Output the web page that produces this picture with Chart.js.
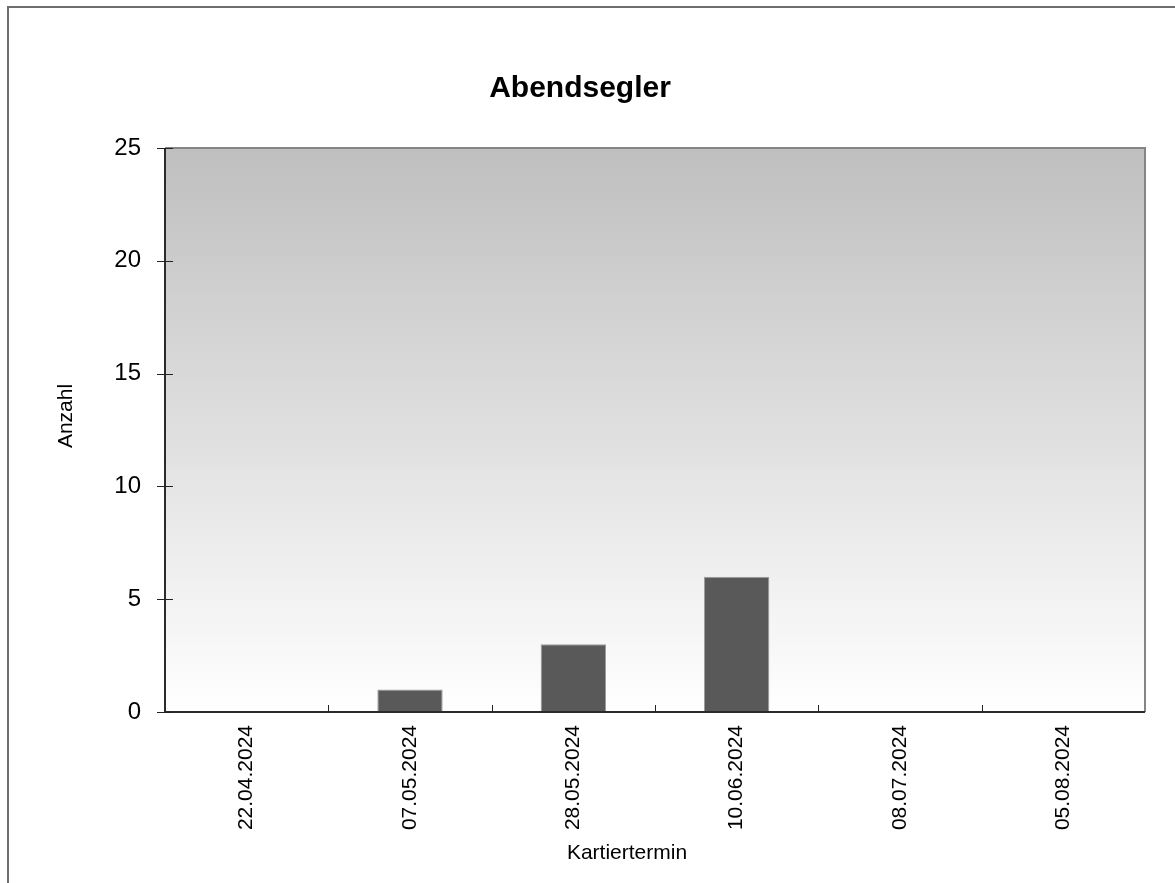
<!DOCTYPE html>
<html>
<head>
<meta charset="utf-8">
<script src="https://cdn.jsdelivr.net/npm/chart.js@4/dist/chart.umd.min.js"></script>
<style>
  html, body { margin: 0; padding: 0; background: #fff; }
  #box { width: 1175px; height: 883px; }
</style>
</head>
<body>
<div id="box"><canvas id="chart"></canvas></div>
<script>
const termine = ['22.04.2024', '07.05.2024', '28.05.2024', '10.06.2024', '08.07.2024', '05.08.2024'];
const anzahl = [0, 1, 3, 6, 0, 0];
const yMax = 25;
const yStep = 5;
const yTitel = 'Anzahl';
const xTitel = 'Kartiertermin';
const schrift = 'Liberation Sans, Arial, sans-serif';

// grey gradient behind the plot, outer frame, axis lines, tick marks and axis titles
const plotFrame = {
    id: 'plotFrame',
    beforeDraw(chart) {
        const ctx = chart.ctx;
        const a = chart.chartArea;
        ctx.save();
        ctx.strokeStyle = '#6e6e6e';
        ctx.lineWidth = 2;
        ctx.strokeRect(8, 7, 1300, 1000);
        let grad = ctx.createLinearGradient(0, a.top, 0, a.bottom);
        grad.addColorStop(0, '#bfbfbf');
        grad.addColorStop(1, '#ffffff');
        ctx.fillStyle = grad;
        ctx.fillRect(a.left, a.top, a.right - a.left, a.bottom - a.top);
        ctx.restore();
    },
    afterDatasetsDraw(chart) {
        const ctx = chart.ctx;
        const a = chart.chartArea;
        const x = chart.scales.x;
        const y = chart.scales.y;
        ctx.save();
        ctx.lineWidth = 2;
        ctx.strokeStyle = '#858585';
        ctx.beginPath();
        ctx.moveTo(a.left, a.top);
        ctx.lineTo(a.right, a.top);
        ctx.lineTo(a.right, a.bottom);
        ctx.stroke();
        ctx.strokeStyle = '#2b2b2b';
        ctx.beginPath();
        ctx.moveTo(a.left, a.top);
        ctx.lineTo(a.left, a.bottom);
        ctx.lineTo(a.right, a.bottom);
        ctx.stroke();

        ctx.lineWidth = 1;
        ctx.strokeStyle = '#222';
        ctx.beginPath();
        y.ticks.forEach(t => {
            let py = Math.round(y.getPixelForValue(t.value)) + 0.5;
            ctx.moveTo(a.left - 8, py);
            ctx.lineTo(a.left + 8, py);
        });
        for (let i = 1; i < termine.length; i++) {
            let px = Math.round((x.getPixelForValue(i - 1) + x.getPixelForValue(i)) / 2) + 0.5;
            ctx.moveTo(px, a.bottom);
            ctx.lineTo(px, a.bottom - 7);
        }
        ctx.stroke();

        // axis titles sit a bit off the axis centre
        ctx.fillStyle = '#000';
        ctx.font = '21px ' + schrift;
        ctx.textAlign = 'center';
        ctx.textBaseline = 'middle';
        ctx.fillText(xTitel, 627, 853);
        ctx.translate(66, 416);
        ctx.rotate(-Math.PI / 2);
        ctx.fillText(yTitel, 0, 0);
        ctx.restore();
    }
};

new Chart(document.getElementById('chart'), {
    type: 'bar',
    data: {
        labels: termine,
        datasets: [{
            label: yTitel,
            data: anzahl,
            backgroundColor: '#595959',
            borderColor: '#9c9c9c',
            borderWidth: 1,
            barPercentage: 0.4,
            categoryPercentage: 1.0
        }]
    },
    options: {
        responsive: true,
        maintainAspectRatio: false,
        animation: false,
        layout: { padding: { left: 15, right: 30, top: 0, bottom: 0 } },
        plugins: {
            legend: { display: false },
            tooltip: { enabled: false },
            title: {
                display: true,
                text: 'Abendsegler',
                color: '#000',
                font: { family: schrift, size: 30, weight: 'bold' },
                padding: { top: 71, bottom: 41 }
            }
        },
        scales: {
            x: {
                offset: true,
                grid: { display: true, color: 'transparent', drawOnChartArea: false, drawTicks: false },
                border: { display: false },
                ticks: {
                    color: '#000',
                    minRotation: 90,
                    maxRotation: 90,
                    padding: 13,
                    font: { family: schrift, size: 21 }
                },
                afterFit(scale) { scale.height = 171; }
            },
            y: {
                min: 0,
                max: yMax,
                grid: { display: true, color: 'transparent', drawOnChartArea: false, drawTicks: false },
                border: { display: false },
                ticks: {
                    stepSize: yStep,
                    color: '#000',
                    padding: 24,
                    font: { family: schrift, size: 24 }
                },
                afterFit(scale) { scale.width = 150; }
            }
        }
    },
    plugins: [plotFrame]
});
</script>
</body>
</html>
